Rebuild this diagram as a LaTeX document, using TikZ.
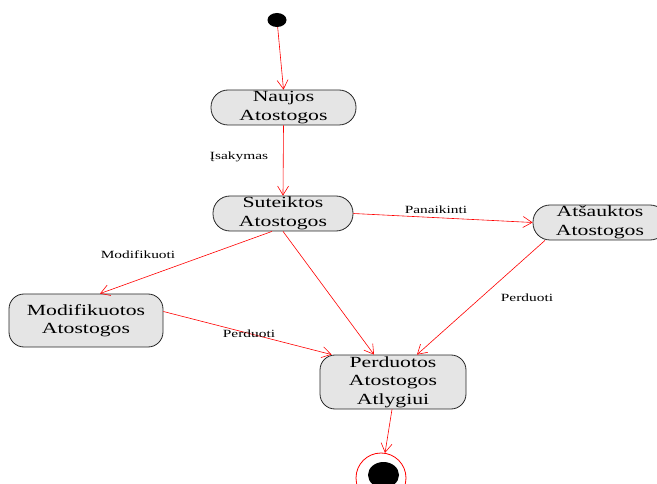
\documentclass[tikz,border=0pt]{standalone}
\usepackage{fontspec}
\setmainfont{Liberation Serif}
\newfontfamily\statefont[FakeStretch=1.4]{Liberation Serif}
\usetikzlibrary{arrows.meta,shapes.geometric}
\begin{document}
\begin{tikzpicture}[x=1pt,y=-1pt,
  state/.style={draw=black!85, line width=0.8pt, fill=black!10, align=center,
    inner sep=0pt, font=\statefont\fontsize{15.5}{18.5}\selectfont},
  trans/.style={draw=red, line width=0.6pt, -{Straight Barb[length=9pt,width=11pt]}},
  tlabel/.style={font=\statefont\fontsize{11}{13}\selectfont, inner sep=0pt}]
\useasboundingbox (0,0) rectangle (657,484);

% initial and final pseudo-states
\node[ellipse, fill=black, minimum width=19pt, minimum height=14pt, inner sep=0pt] (start) at (277,20) {};
\node[circle, draw=red, line width=0.8pt, minimum size=50pt, inner sep=0pt] (end) at (381,478) {};
\node[ellipse, fill=black, minimum width=31pt, minimum height=26pt, inner sep=0pt] (enddot) at (383.5,475) {};

% states
\node[state, minimum width=145pt, minimum height=35pt, rounded corners=17pt] (naujos) at (283.5,107.5) {Naujos\\Atostogos};
\node[state, minimum width=140pt, minimum height=35pt, rounded corners=17pt] (suteiktos) at (283,213.5) {Suteiktos\\Atostogos};
\node[state, minimum width=134pt, minimum height=35pt, rounded corners=17pt] (atsauktos) at (600,222.5) {Atšauktos\\Atostogos};
\node[state, minimum width=154pt, minimum height=53pt, rounded corners=15pt] (modif) at (86,320.5) {Modifikuotos\\Atostogos};
\node[state, minimum width=146pt, minimum height=54pt, rounded corners=15pt] (perd) at (393,382) {Perduotos\\Atostogos\\Atlygiui};

% transitions
\draw[trans] (start) -- (naujos.north);
\draw[trans] (naujos.south) -- (suteiktos.north);
\draw[trans] (suteiktos.east) -- (atsauktos.west);
\draw[trans] ([xshift=-11pt]suteiktos.south) -- ([xshift=14pt]modif.north);
\draw[trans] (suteiktos.south) -- ([xshift=-19pt]perd.north);
\draw[trans] ([xshift=-55pt]atsauktos.south) -- ([xshift=24pt]perd.north);
\draw[trans] ([yshift=9pt]modif.east) -- ([xshift=12pt]perd.north west);
\draw[trans] ([xshift=-1pt]perd.south) -- (end);

% transition labels
\node[tlabel] (l1) at (239,157) {Įsakymas};
\node[tlabel] (l2) at (436,210) {Panaikinti};
\node[tlabel] (l3) at (138,255) {Modifikuoti};
\node[tlabel] (l4) at (527,298) {Perduoti};
\node[tlabel] (l5) at (249,334) {Perduoti};
\end{tikzpicture}
\end{document}
